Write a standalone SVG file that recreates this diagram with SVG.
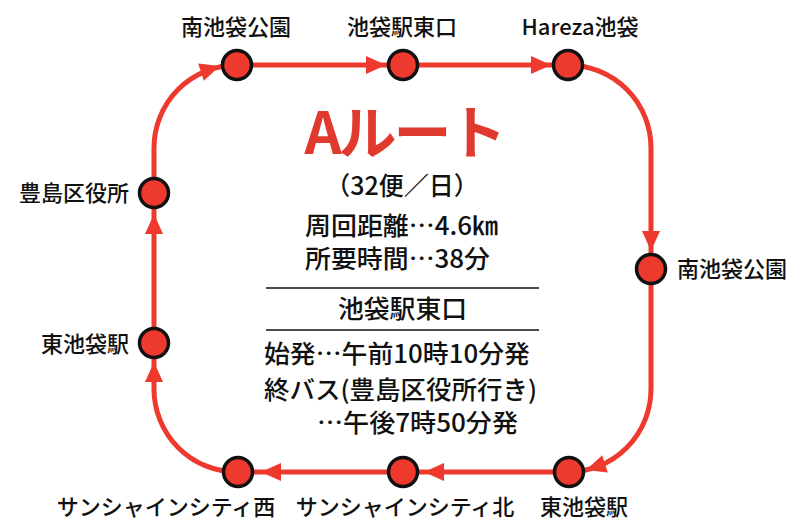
<svg xmlns="http://www.w3.org/2000/svg" xmlns:xlink="http://www.w3.org/1999/xlink" width="808" height="523" viewBox="0 0 808 523">
<style>
.route{fill:none;stroke:#ee3a2e;stroke-width:5}
.ah{fill:#ee3a2e}
.node{fill:#ee3a2e;stroke:#111;stroke-width:3.5}
.lbl{font-family:"Noto Sans CJK JP","Noto Sans",sans-serif;font-size:22px;font-weight:500;fill:#111}
.ctr{font-family:"Noto Sans CJK JP","Noto Sans",sans-serif;font-size:25px;font-weight:500;fill:#111}
.title{font-family:"Noto Sans CJK JP","Noto Sans",sans-serif;font-size:58px;font-weight:bold;fill:#e03a2e}
.rule{stroke:#111;stroke-width:1.3}
</style>
<defs>
<path id="arrow" d="M0,0 L-20,-9 L-20,9 Z"/>
</defs>
<rect width="808" height="523" fill="#fff"/>
<g id="connectors">
<rect class="route" x="154" y="65" width="497" height="407" rx="83" ry="83"/>
<use href="#arrow" class="ah" transform="translate(220,66) rotate(-18)"/>
<use href="#arrow" class="ah" transform="translate(386,65)"/>
<use href="#arrow" class="ah" transform="translate(551,65)"/>
<use href="#arrow" class="ah" transform="translate(651,251) rotate(90)"/>
<use href="#arrow" class="ah" transform="translate(586,470) rotate(162)"/>
<use href="#arrow" class="ah" transform="translate(424,472) rotate(180)"/>
<use href="#arrow" class="ah" transform="translate(261,472) rotate(180)"/>
<use href="#arrow" class="ah" transform="translate(154,362) rotate(-90)"/>
<use href="#arrow" class="ah" transform="translate(154,214) rotate(-90)"/>
</g>
<g id="n-minamiikebukuro-top">
<circle class="node" cx="237" cy="65" r="14.5"/>
<text class="lbl" x="236" y="35" text-anchor="middle">南池袋公園</text>
</g>
<g id="n-ikebukuro-east">
<circle class="node" cx="403" cy="65" r="14.5"/>
<text class="lbl" x="402" y="35" text-anchor="middle">池袋駅東口</text>
</g>
<g id="n-hareza">
<circle class="node" cx="568" cy="65" r="14.5"/>
<text class="lbl" x="580" y="35" text-anchor="middle">Hareza池袋</text>
</g>
<g id="n-minamiikebukuro-right">
<circle class="node" cx="651" cy="269" r="14.5"/>
<text class="lbl" x="677" y="277">南池袋公園</text>
</g>
<g id="n-higashiikebukuro-bottom">
<circle class="node" cx="569" cy="472" r="14.5"/>
<text class="lbl" x="584" y="515" text-anchor="middle">東池袋駅</text>
</g>
<g id="n-sunshine-north">
<circle class="node" cx="403" cy="472" r="14.5"/>
<text class="lbl" x="405" y="515" text-anchor="middle">サンシャインシティ北</text>
</g>
<g id="n-sunshine-west">
<circle class="node" cx="238" cy="472" r="14.5"/>
<text class="lbl" x="166" y="515" text-anchor="middle">サンシャインシティ西</text>
</g>
<g id="n-higashiikebukuro-left">
<circle class="node" cx="154" cy="343" r="14.5"/>
<text class="lbl" x="129" y="352" text-anchor="end">東池袋駅</text>
</g>
<g id="n-toshima-office">
<circle class="node" cx="154" cy="193" r="14.5"/>
<text class="lbl" x="129" y="201" text-anchor="end">豊島区役所</text>
</g>
<g id="info">
<text class="title" x="404" y="154" text-anchor="middle" letter-spacing="-3">Aルート</text>
<text class="ctr" x="402" y="195" text-anchor="middle">（32便／日）</text>
<text class="ctr" x="305" y="235" font-size="22" textLength="193" lengthAdjust="spacingAndGlyphs">周回距離…4.6㎞</text>
<text class="ctr" x="305" y="268" font-size="22" textLength="185" lengthAdjust="spacingAndGlyphs">所要時間…38分</text>
<line class="rule" x1="266" y1="288" x2="539" y2="288"/>
<text class="ctr" x="338" y="318" textLength="129" lengthAdjust="spacingAndGlyphs">池袋駅東口</text>
<line class="rule" x1="266" y1="330" x2="539" y2="330"/>
<text class="ctr" x="264" y="363" textLength="266" lengthAdjust="spacingAndGlyphs">始発…午前10時10分発</text>
<text class="ctr" x="264" y="399" textLength="273" lengthAdjust="spacingAndGlyphs">終バス(豊島区役所行き)</text>
<text class="ctr" x="317" y="432" textLength="201" lengthAdjust="spacingAndGlyphs">…午後7時50分発</text>
</g>
</svg>
